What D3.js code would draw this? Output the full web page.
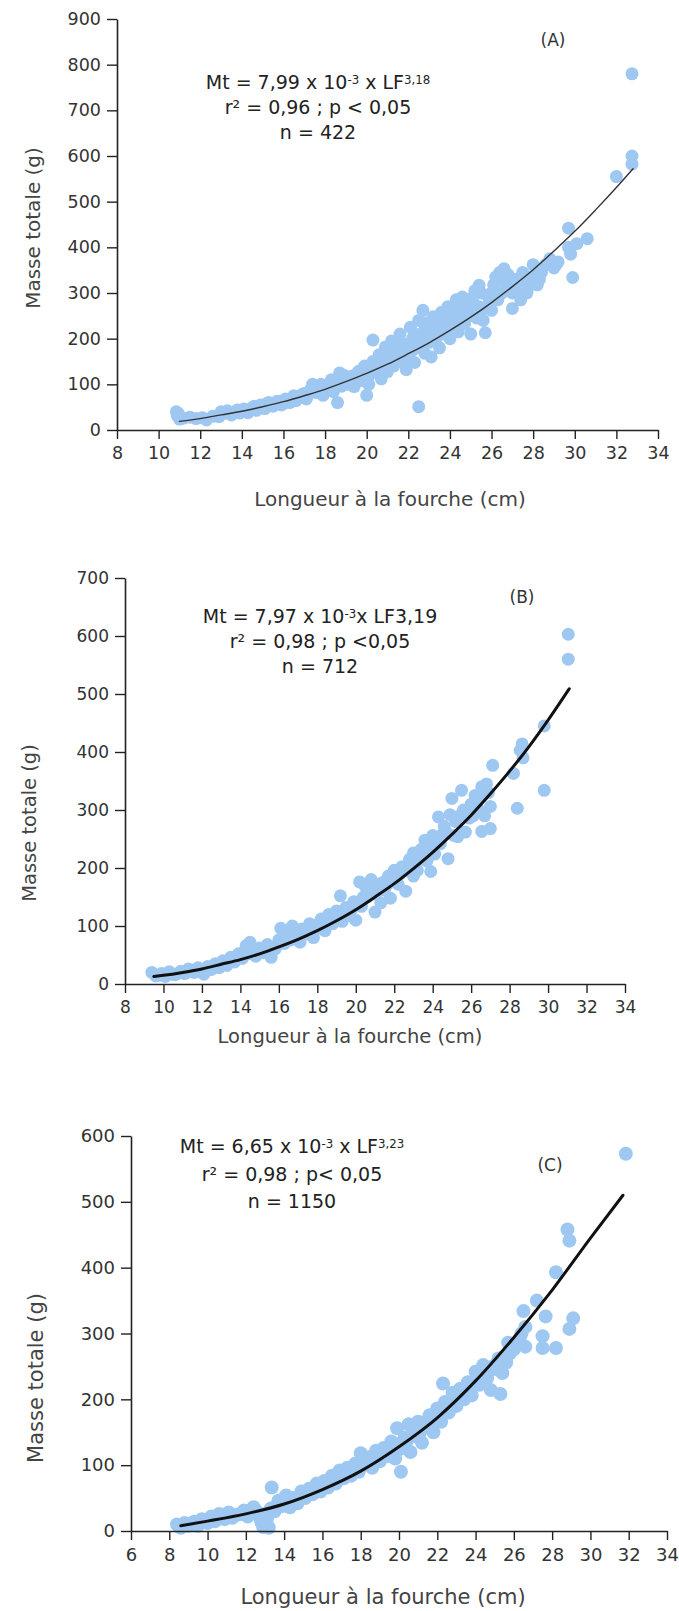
<!DOCTYPE html>
<html>
<head>
<meta charset="utf-8">
<script src="https://cdn.jsdelivr.net/npm/d3@7"></script>
<style>
  body { margin: 0; background: #fff; }
  text { font-family: "DejaVu Sans", Verdana, sans-serif; }
</style>
</head>
<body>
<svg id="fig" width="679" height="1611"></svg>
<script>
// ---------- Data: fork length (cm) vs total mass (g) ----------
const xTicksA = [8, 10, 12, 14, 16, 18, 20, 22, 24, 26, 28, 30, 32, 34];
const yTicksA = [0, 100, 200, 300, 400, 500, 600, 700, 800, 900];
const xTicksB = [8, 10, 12, 14, 16, 18, 20, 22, 24, 26, 28, 30, 32, 34];
const yTicksB = [0, 100, 200, 300, 400, 500, 600, 700];
const xTicksC = [6, 8, 10, 12, 14, 16, 18, 20, 22, 24, 26, 28, 30, 32, 34];
const yTicksC = [0, 100, 200, 300, 400, 500, 600];

const pointsA = [
  [10.85,40],[10.9,31],[11,24],[10.95,36],[11.2,26],[11.5,28],[11.8,25],[12.1,27],[12.3,22],
  [12.6,30],[12.9,29],[13,40],[13.1,36],[13.3,42],[13.4,38],[13.5,33],[13.7,41],[13.8,44],[13.9,37],
  [14,40],[14.1,46],[14.3,38],[14.4,44],[14.5,49],[14.6,52],[14.7,43],[14.8,48],[14.9,55],
  [15,52],[15.1,47],[15.2,58],[15.3,60],[15.4,55],[15.5,52],[15.6,58],[15.7,63],[15.8,62],[15.9,55],
  [16,58],[16.1,68],[16.2,66],[16.3,60],[16.4,68],[16.5,75],[16.6,64],[16.7,70],[16.8,72],[16.9,78],
  [17,80],[17.1,68],[17.2,78],[17.3,88],[17.4,100],[17.5,92],[17.6,82],[17.7,90],[17.8,100],[17.9,76],
  [18,85],[18.1,92],[18.2,100],[18.3,110],[18.4,84],[18.5,105],[18.6,60],[18.7,125],[18.8,96],[18.9,112],[18.9,120],
  [19,108],[19.1,100],[19.2,110],[19.3,118],[19.4,95],[19.5,115],[19.6,128],[19.7,130],[19.8,108],[19.9,140],
  [20,76],[20,132],[20.1,118],[20.1,100],[20.2,125],[20.3,197],[20.3,150],[20.4,130],[20.5,140],
  [20.6,165],[20.6,150],[20.7,112],[20.8,145],[20.9,182],[20.9,155],[21,128],[21,170],[21.1,160],
  [21.2,195],[21.2,150],[21.3,140],[21.4,165],[21.5,175],[21.5,190],[21.6,210],[21.7,150],[21.7,170],
  [21.8,188],[21.9,132],[21.9,180],[22,165],[22,150],[22.1,225],[22.2,200],[22.2,175],[22.3,148],[22.3,210],
  [22.4,180],[22.5,240],[22.5,51],[22.6,210],[22.6,190],[22.7,262],[22.8,168],[22.8,220],[22.9,235],
  [23,192],[23,215],[23.1,160],[23.1,232],[23.2,248],[23.3,215],[23.3,195],[23.4,240],[23.5,180],
  [23.6,258],[23.6,210],[23.7,228],[23.8,250],[23.9,270],[24,200],[24,225],[24.1,240],[24.2,262],
  [24.3,285],[24.3,235],[24.4,215],[24.5,255],[24.5,275],[24.6,291],[24.6,250],[24.7,232],[24.8,285],
  [24.9,270],[25,210],[25,262],[25.1,250],[25.1,290],[25.2,305],[25.3,245],[25.4,317],[25.4,270],
  [25.5,300],[25.6,240],[25.6,265],[25.7,213],[25.8,295],[25.9,280],[26,262],[26,300],[26.1,318],
  [26.2,335],[26.3,285],[26.4,345],[26.5,330],[26.5,300],[26.6,353],[26.7,310],[26.8,340],[26.9,320],
  [27,266],[27,300],[27.1,315],[27.2,330],[27.3,300],[27.4,285],[27.5,345],[27.6,325],[27.7,300],
  [27.8,315],[27.9,335],[28,362],[28.1,340],[28.2,318],[28.3,330],[28.4,345],[28.6,362],[28.7,365],
  [28.8,375],[29,355],[29.1,362],[29.2,368],[29.7,442],[29.7,400],[29.8,385],[29.9,334],[30.1,408],[30.6,419],
  [32,555],[32.75,600],[32.75,582],[32.75,780]
];
const curveA = [
  [11,19],[12,25],[13,33],[14,41],[15,51],[16,62],[17,75],[18,89],[19,106],[20,124],
  [21,144],[22,167],[23,191],[24,218],[25,247],[26,279],[27,314],[28,351],[29,392],
  [30,435],[31,482],[32,531],[32.8,572]
];

const pointsB = [
  [9.4,20],[9.6,14],[9.8,15],[9.9,18],[10.1,13],[10.3,21],[10.4,17],[10.6,16],[10.8,19],[10.9,22],
  [11.1,18],[11.3,26],[11.4,22],[11.6,20],[11.8,28],[11.9,24],[12.1,17],[12.3,30],[12.4,26],
  [12.5,25],[12.7,35],[12.8,32],[12.9,28],[13.1,40],[13.2,36],[13.3,32],[13.5,46],[13.6,42],[13.7,38],[13.9,52],
  [14,48],[14.1,44],[14.2,56],[14.3,66],[14.4,52],[14.5,72],[14.6,55],[14.8,48],[14.9,58],[15,62],
  [15.1,56],[15.2,54],[15.4,68],[15.5,60],[15.6,46],[15.8,60],[15.9,66],
  [16,76],[16.1,96],[16.2,80],[16.3,70],[16.4,82],[16.5,88],[16.6,76],[16.7,100],[16.8,90],[16.9,80],
  [17,85],[17.1,72],[17.2,95],[17.3,92],[17.4,86],[17.5,96],[17.6,104],[17.7,92],[17.8,80],[17.9,100],[18,96],
  [18.1,104],[18.2,112],[18.3,100],[18.4,92],[18.5,108],[18.6,120],[18.7,112],[18.8,104],[18.9,115],
  [19,126],[19.1,118],[19.2,152],[19.3,108],[19.4,124],[19.5,132],[19.6,128],[19.7,118],[19.8,130],[19.9,142],
  [20,110],[20.1,140],[20.2,176],[20.3,134],[20.4,150],[20.5,168],[20.6,150],[20.7,160],[20.8,180],[20.9,168],
  [21,155],[21,124],[21.1,160],[21.2,172],[21.3,140],[21.4,175],[21.5,162],[21.6,170],[21.7,186],[21.8,148],[21.9,180],
  [22,196],[22.1,185],[22.2,172],[22.3,190],[22.4,202],[22.5,195],[22.6,160],[22.7,200],[22.8,215],[22.9,205],
  [23,186],[23,226],[23.1,210],[23.2,196],[23.3,215],[23.4,232],[23.5,222],[23.6,248],[23.7,212],[23.8,235],[23.9,194],
  [24,256],[24.1,224],[24.2,245],[24.3,288],[24.4,242],[24.5,258],[24.6,272],[24.7,262],[24.8,216],[24.9,292],
  [25,320],[25.1,256],[25.2,280],[25.3,254],[25.4,290],[25.5,334],[25.6,300],[25.7,262],[25.8,300],[25.9,286],
  [26,310],[26.1,290],[26.2,325],[26.3,318],[26.4,300],[26.55,340],[26.55,263],[26.6,325],[26.7,290],
  [26.8,345],[26.9,330],[27,306],[27,268],
  [27.12,377],[28.2,363],[28.4,303],[28.55,403],[28.65,414],[28.7,390],
  [29.8,445],[29.8,334],[31.05,603],[31.05,560]
];
const curveB = [
  [9.5,13],[10,15],[11,20],[12,26],[13,34],[14,42],[15,52],[16,64],[17,77],[18,92],
  [19,109],[20,128],[21,150],[22,173],[23,199],[24,227],[25,258],[26,291],[27,328],
  [28,367],[29,409],[30,455],[31.1,509]
];

const pointsC = [
  [8.4,10],[8.5,8],[8.6,5],[8.8,12],[8.9,10],[9,8],[9.2,12],[9.3,14],[9.5,8],[9.6,14],[9.7,18],[9.9,16],
  [10,12],[10.2,22],[10.3,18],[10.4,15],[10.6,26],[10.7,20],[10.9,18],[11,22],[11.1,28],[11.3,20],[11.4,24],
  [11.6,25],[11.8,26],[11.9,31],[12.1,22],[12.2,30],[12.4,36],[12.5,32],[12.6,28],[12.7,22],[12.8,14],
  [12.9,6],[13,26],[13.1,18],[13.2,5],[13.3,34],[13.35,66],[13.5,30],[13.6,38],
  [13.7,46],[13.8,40],[13.9,38],[14,44],[14.1,54],[14.2,46],[14.3,36],[14.4,44],[14.5,50],[14.6,50],[14.7,42],[14.8,52],[14.9,60],
  [15,56],[15.1,50],[15.2,58],[15.3,64],[15.4,60],[15.5,56],[15.6,64],[15.7,72],[15.8,66],[15.9,60],
  [16,70],[16.1,76],[16.2,72],[16.3,66],[16.4,74],[16.5,84],[16.6,80],[16.7,72],[16.8,82],[16.9,92],
  [17,86],[17.1,80],[17.2,88],[17.3,96],[17.4,92],[17.5,84],[17.6,94],[17.7,102],[17.8,96],[17.9,90],
  [18,118],[18.1,104],[18.2,100],[18.3,106],[18.4,112],[18.5,108],[18.6,96],[18.7,112],[18.8,122],[18.9,114],
  [19,106],[19.1,116],[19.2,126],[19.3,120],[19.4,114],[19.5,124],[19.6,136],[19.7,128],[19.8,110],[19.9,156],[19.9,132],
  [20,124],[20.1,90],[20.2,130],[20.3,142],[20.4,136],[20.5,162],[20.6,120],[20.7,144],[20.8,152],[20.9,158],
  [21,166],[21.1,150],[21.2,134],[21.3,162],[21.4,160],[21.5,168],[21.6,176],[21.7,160],[21.8,150],[21.9,170],
  [22,186],[22.1,176],[22.2,166],[22.3,224],[22.4,196],[22.5,190],[22.6,180],[22.7,196],[22.8,210],[22.9,200],
  [23,190],[23.1,204],[23.2,216],[23.3,208],[23.4,200],[23.5,214],[23.6,226],[23.7,218],[23.8,206],[23.9,224],
  [24,242],[24.1,230],[24.2,222],[24.3,236],[24.4,252],[24.5,240],[24.6,232],[24.7,244],[24.8,214],[24.9,250],
  [25,246],[25.1,254],[25.2,262],[25.3,208],[25.4,240],[25.5,265],[25.6,256],[25.7,286],[25.8,270],
  [26,276],[26.1,285],[26.3,292],[26.4,300],[26.5,334],[26.6,310],[26.6,280],[27.2,350],[27.66,326],
  [27.5,296],[27.5,278],[28.2,278],[28.2,393],
  [28.8,458],[28.9,441],[28.9,307],[29.1,323],[31.85,573]
];
const curveC = [
  [8.6,8],[10,15],[12,26],[14,41],[16,63],[18,91],[20,128],[22,172],[24,228],[26,294],
  [28,366],[30,445],[31.7,510]
];

// Regression text for each panel: [text, isSuperscript] segments per line
const equationA = [
  [["Mt = 7,99 x 10", false], ["-3", true], [" x LF", false], ["3,18", true]],
  [["r² = 0,96 ; p < 0,05", false]],
  [["n = 422", false]]
];
const equationB = [
  [["Mt = 7,97 x 10", false], ["-3", true], ["x LF3,19", false]],
  [["r² = 0,98 ; p <0,05", false]],
  [["n = 712", false]]
];
const equationC = [
  [["Mt = 6,65 x 10", false], ["-3", true], [" x LF", false], ["3,23", true]],
  [["r² = 0,98 ; p< 0,05", false]],
  [["n = 1150", false]]
];

const xTitle = "Longueur à la fourche (cm)";
const yTitle = "Masse totale (g)";

// ---------- Panel layout ----------
const panels = [
  {
    tag: "(A)", points: pointsA, curve: curveA, eq: equationA,
    xTicks: xTicksA, yTicks: yTicksA, xDom: [8, 34], yDom: [0, 900],
    left: 117, right: 658, bottom: 430, top: 19,
    tickFont: 17.5, titleFont: 20, eqFont: 19, r: 6.5,
    curveWidth: 1.4, curveColor: "#333",
    eqX: 318, eqY: [89, 114, 139],
    tagX: 553, tagY: 46,
    xTitleX: 390, xTitleY: 506, yTitleX: 40, yTitleY: 228
  },
  {
    tag: "(B)", points: pointsB, curve: curveB, eq: equationB,
    xTicks: xTicksB, yTicks: yTicksB, xDom: [8, 34], yDom: [0, 700],
    left: 125, right: 625, bottom: 984, top: 578,
    tickFont: 17, titleFont: 19.5, eqFont: 19, r: 6.5,
    curveWidth: 3, curveColor: "#111",
    eqX: 320, eqY: [623, 648, 673],
    tagX: 522, tagY: 603,
    xTitleX: 350, xTitleY: 1043, yTitleX: 36, yTitleY: 823
  },
  {
    tag: "(C)", points: pointsC, curve: curveC, eq: equationC,
    xTicks: xTicksC, yTicks: yTicksC, xDom: [6, 34], yDom: [0, 600],
    left: 131, right: 667, bottom: 1531, top: 1136,
    tickFont: 18, titleFont: 21, eqFont: 19, r: 7,
    curveWidth: 3, curveColor: "#111",
    eqX: 292, eqY: [1153, 1181, 1208],
    tagX: 550, tagY: 1171,
    xTitleX: 383, xTitleY: 1604, yTitleX: 43, yTitleY: 1378
  }
];

const svg = d3.select("#fig");
svg.append("rect").attr("width", 679).attr("height", 1611).attr("fill", "#fff");

panels.forEach(p => {
  const x = d3.scaleLinear().domain(p.xDom).range([p.left, p.right]);
  const y = d3.scaleLinear().domain(p.yDom).range([p.bottom, p.top]);
  const g = svg.append("g");

  // scatter points
  g.append("g").selectAll("circle").data(p.points).join("circle")
    .attr("cx", d => x(d[0])).attr("cy", d => y(d[1]))
    .attr("r", p.r).attr("fill", "#9ec8f2");

  // fitted curve
  g.append("path").datum(p.curve)
    .attr("fill", "none").attr("stroke", p.curveColor)
    .attr("stroke-width", p.curveWidth).attr("stroke-linecap", "round")
    .attr("d", d3.line().x(d => x(d[0])).y(d => y(d[1])).curve(d3.curveMonotoneX));

  // axes
  const yAxis = g.append("g").attr("transform", `translate(${p.left},0)`)
    .call(d3.axisLeft(y).tickValues(p.yTicks).tickSize(10).tickSizeOuter(0).tickPadding(6));
  const xAxis = g.append("g").attr("transform", `translate(0,${p.bottom})`)
    .call(d3.axisBottom(x).tickValues(p.xTicks).tickSize(9).tickSizeOuter(0).tickPadding(8));
  [yAxis, xAxis].forEach(a => {
    a.select(".domain").attr("stroke", "#222").attr("stroke-width", 1.6);
    a.selectAll(".tick line").attr("stroke", "#222").attr("stroke-width", 1.4);
    a.selectAll(".tick text").attr("fill", "#333")
      .style("font-family", '"DejaVu Sans", Verdana, sans-serif')
      .style("font-size", p.tickFont + "px");
  });

  // axis titles
  g.append("text").attr("x", p.xTitleX).attr("y", p.xTitleY)
    .attr("text-anchor", "middle").attr("fill", "#444")
    .style("font-size", p.titleFont + "px").text(xTitle);
  g.append("text")
    .attr("transform", `translate(${p.yTitleX},${p.yTitleY}) rotate(-90)`)
    .attr("text-anchor", "middle").attr("fill", "#444")
    .style("font-size", p.titleFont + "px").text(yTitle);

  // regression equation block
  p.eq.forEach((line, i) => {
    const t = g.append("text").attr("x", p.eqX).attr("y", p.eqY[i])
      .attr("text-anchor", "middle").attr("fill", "#222")
      .style("font-size", p.eqFont + "px");
    let raised = false;
    line.forEach(([s, sup]) => {
      const ts = t.append("tspan").text(s);
      if (sup && !raised) { ts.attr("dy", "-0.45em").style("font-size", "0.62em"); raised = true; }
      else if (sup) { ts.style("font-size", "0.62em"); }
      else if (!sup && raised) { ts.attr("dy", "0.28em"); raised = false; }
    });
  });

  // panel tag
  g.append("text").attr("x", p.tagX).attr("y", p.tagY)
    .attr("text-anchor", "middle").attr("fill", "#333")
    .style("font-size", "17px").text(p.tag);
});
</script>
</body>
</html>
